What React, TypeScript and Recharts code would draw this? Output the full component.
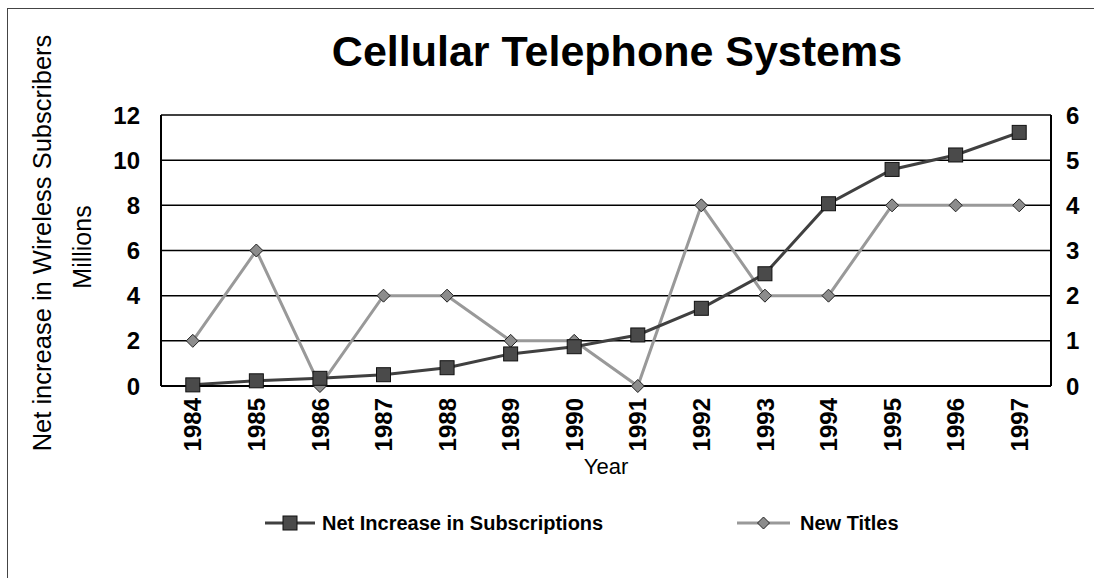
import React from 'react';
import { LineChart, Line, XAxis, YAxis, CartesianGrid, Legend } from 'recharts';

const years = ['1984','1985','1986','1987','1988','1989','1990','1991','1992','1993','1994','1995','1996','1997'];
const netIncrease = [0.05, 0.23, 0.34, 0.5, 0.81, 1.42, 1.74, 2.26, 3.44, 4.97, 8.07, 9.59, 10.23, 11.23];
const newTitles = [1, 3, 0, 2, 2, 1, 1, 0, 4, 2, 2, 4, 4, 4];
const leftTicks = [0, 2, 4, 6, 8, 10, 12];
const rightTicks = [0, 1, 2, 3, 4, 5, 6];

const data = years.map((y, i) => ({ year: y, net: netIncrease[i], titles: newTitles[i] }));

const FONT = '"Liberation Sans", Arial, sans-serif';

const SquareDot = (props: any) => {
  const { cx, cy, index } = props;
  if (cx == null || cy == null) return <g key={'s' + index} />;
  return <rect key={'s' + index} x={cx - 7} y={cy - 7} width={14} height={14} fill="#4a4a4a" stroke="#111" strokeWidth={1} />;
};

const DiamondDot = (props: any) => {
  const { cx, cy, index } = props;
  if (cx == null || cy == null) return <g key={'d' + index} />;
  const r = 6.5;
  return <polygon key={'d' + index} points={`${cx},${cy - r} ${cx + r},${cy} ${cx},${cy + r} ${cx - r},${cy}`} fill="#8c8c8c" stroke="#222" strokeWidth={1} />;
};

const YearTick = (props: any) => {
  const { x, y, payload } = props;
  return (
    <text x={x} y={y} transform={`rotate(-90 ${x} ${y})`} textAnchor="end" dy="0.36em" fontFamily={FONT} fontWeight="bold" fontSize={24} fill="#000">
      {payload.value}
    </text>
  );
};

const LeftLabel = () => (
  <g>
    <text x={42} y={243} transform="rotate(-90 42 243)" textAnchor="middle" dy="0.36em" fontFamily={FONT} fontSize={25.5} fill="#000">Net increase in Wireless Subscribers</text>
    <text x={82} y={247} transform="rotate(-90 82 247)" textAnchor="middle" dy="0.36em" fontFamily={FONT} fontSize={25} fill="#000">Millions</text>
  </g>
);

const LegendContent = () => (
  <div style={{ position: 'relative', width: 1094, height: 36, fontFamily: FONT, fontWeight: 'bold', fontSize: 20, color: '#000' }}>
    <svg width={1094} height={36} style={{ position: 'absolute', left: 0, top: 0 }}>
      <line x1={265} y1={18} x2={315} y2={18} stroke="#404040" strokeWidth={3} />
      <rect x={283} y={11} width={14} height={14} fill="#4a4a4a" stroke="#111" strokeWidth={1} />
      <text x={322} y={18} dy="0.36em" fontFamily={FONT} fontWeight="bold" fontSize={20}>Net Increase in Subscriptions</text>
      <line x1={737} y1={18} x2={790} y2={18} stroke="#999" strokeWidth={3} />
      <polygon points="763.5,12 769.5,18 763.5,24 757.5,18" fill="#8c8c8c" stroke="#222" strokeWidth={1} />
      <text x={800} y={18} dy="0.36em" fontFamily={FONT} fontWeight="bold" fontSize={20}>New Titles</text>
    </svg>
  </div>
);

export default function App() {
  return (
    <div style={{ position: 'absolute', left: 0, top: 0, width: 1094, height: 578, overflow: 'hidden', background: '#fff' }}>
      <div style={{ position: 'absolute', left: 7, top: 8, width: 1200, height: 700, border: '1px solid #444' }} />
      <div style={{ position: 'absolute', left: 0, top: 27, width: 1234, textAlign: 'center', fontFamily: FONT, fontWeight: 'bold', fontSize: 43, color: '#000' }}>
        Cellular Telephone Systems
      </div>
      <div style={{ position: 'absolute', left: 0, top: 0 }}>
        <LineChart width={1094} height={578} data={data} margin={{ top: 115, right: 0, bottom: 0, left: 0 }}>
          <CartesianGrid horizontal={true} vertical={false} stroke="#000" strokeWidth={1.5} yAxisId="left" />
          <XAxis dataKey="year" scale="band" height={156} tick={<YearTick />} tickLine={false} tickSize={0} tickMargin={12} axisLine={{ stroke: '#000', strokeWidth: 2 }} interval={0}
            label={{ value: 'Year', position: 'insideTop', offset: 72, fontFamily: FONT, fontSize: 22, fill: '#000' }} />
          <YAxis yAxisId="left" orientation="left" width={161} domain={[0, 12]} ticks={leftTicks} interval={0} tickLine={false} tickSize={0} tickMargin={21}
            axisLine={{ stroke: '#000', strokeWidth: 2 }} tick={{ fontFamily: FONT, fontWeight: 'bold', fontSize: 24, fill: '#000' }} label={<LeftLabel />} />
          <YAxis yAxisId="right" orientation="right" width={43} domain={[0, 6]} ticks={rightTicks} interval={0} tickLine={false} tickSize={0} tickMargin={15}
            axisLine={{ stroke: '#000', strokeWidth: 2 }} tick={{ fontFamily: FONT, fontWeight: 'bold', fontSize: 24, fill: '#000', textAnchor: 'start' }} />
          <Legend verticalAlign="bottom" content={<LegendContent />} wrapperStyle={{ position: 'absolute', left: 0, top: 505, width: 1094, height: 36 }} />
          <Line yAxisId="right" type="linear" dataKey="titles" name="New Titles" stroke="#999" strokeWidth={3} dot={DiamondDot} isAnimationActive={false} />
          <Line yAxisId="left" type="linear" dataKey="net" name="Net Increase in Subscriptions" stroke="#404040" strokeWidth={3} dot={SquareDot} isAnimationActive={false} />
        </LineChart>
      </div>
    </div>
  );
}
